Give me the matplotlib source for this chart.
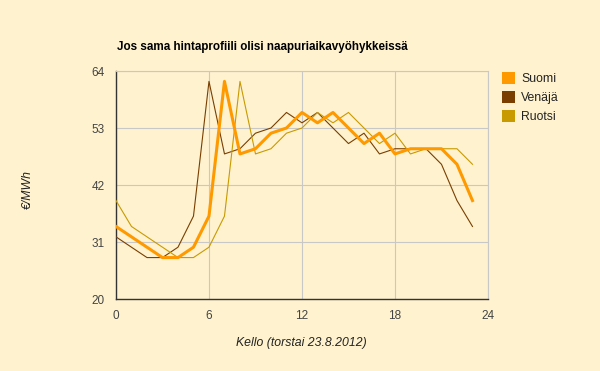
import matplotlib.pyplot as plt
from matplotlib.patches import Patch

plt.rcParams['font.family'] = ['Liberation Sans', 'DejaVu Sans']

# Hourly prices (€/MWh), 23.8.2012
hours = list(range(24))
suomi = [34, 32, 30, 28, 28, 30, 36, 62, 48, 49, 52, 53, 56, 54, 56, 53, 50, 52, 48, 49, 49, 49, 46, 39]
venaja = [32, 30, 28, 28, 30, 36, 62, 48, 49, 52, 53, 56, 54, 56, 53, 50, 52, 48, 49, 49, 49, 46, 39, 34]
ruotsi = [39, 34, 32, 30, 28, 28, 30, 36, 62, 48, 49, 52, 53, 56, 54, 56, 53, 50, 52, 48, 49, 49, 49, 46]

series = ['Suomi', 'Venäjä', 'Ruotsi']
colors = ['#ff9900', '#7a3e00', '#c99a00']
xticks = [0, 6, 12, 18, 24]
yticks = [20, 31, 42, 53, 64]

bg = '#fff2cf'
fig = plt.figure(figsize=(6, 3.71), dpi=100, facecolor=bg)
ax = fig.add_axes([0.1933, 0.194, 0.62, 0.6146])
ax.set_facecolor(bg)

ax.plot(hours, venaja, color=colors[1], lw=0.8, zorder=3)
ax.plot(hours, ruotsi, color=colors[2], lw=0.8, zorder=3)
ax.plot(hours, suomi, color=colors[0], lw=2.2, zorder=4)

ax.set_xlim(0, 24)
ax.set_ylim(20, 64)
ax.set_xticks(xticks)
ax.set_yticks(yticks)
ax.tick_params(length=0, labelsize=8.5, colors='#444444', pad=8)
ax.grid(True, color='#c8c8c8', lw=0.8, zorder=1)
for s in ['top', 'right']:
    ax.spines[s].set_color('#c8c8c8')
    ax.spines[s].set_linewidth(0.8)
for s in ['left', 'bottom']:
    ax.spines[s].set_color('#333333')
    ax.spines[s].set_linewidth(1.0)

fig.text(0.195, 0.874, 'Jos sama hintaprofiili olisi naapuriaikavyöhykkeissä',
         fontsize=8.4, fontweight='bold', color='#000000', va='center')
fig.text(0.047, 0.49, '€/MWh', rotation=90, fontsize=8.8, style='italic',
         color='#222222', ha='center', va='center')
fig.text(0.503, 0.075, 'Kello (torstai 23.8.2012)', fontsize=8.8, style='italic',
         color='#222222', ha='center', va='center')

handles = [Patch(facecolor=c, edgecolor='none') for c in colors]
fig.legend(handles, series, loc='upper left', bbox_to_anchor=(0.818, 0.836),
           frameon=False, fontsize=8.8, handlelength=1.1, handleheight=1.1,
           handletextpad=0.5, labelspacing=0.5, labelcolor='#222222')

fig.savefig('out.png', dpi=100, facecolor=bg)
